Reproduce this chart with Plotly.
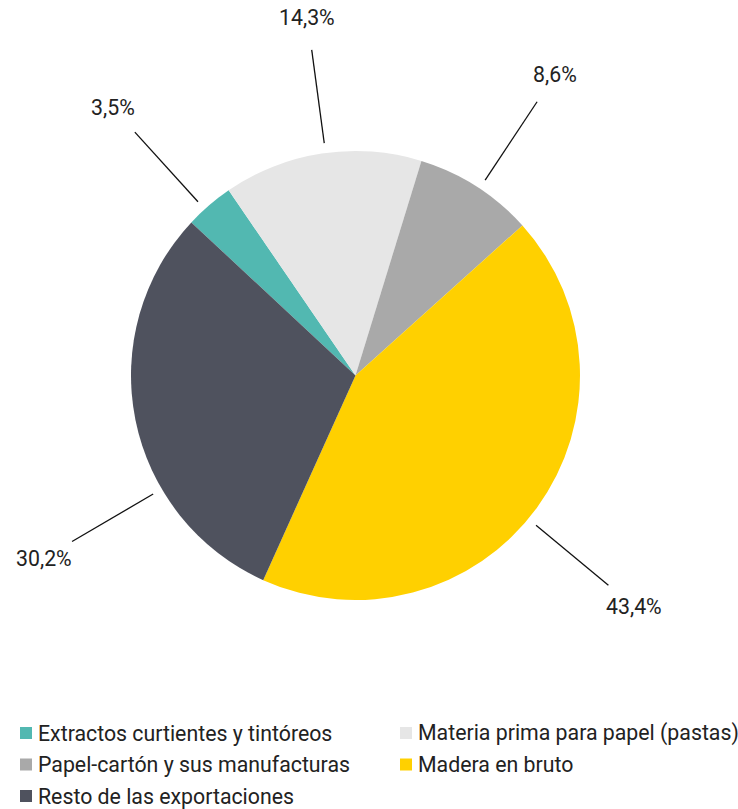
import math
import plotly.graph_objects as go

labels = ["Extractos curtientes y tintóreos", "Materia prima para papel (pastas)",
          "Papel-cartón y sus manufacturas", "Madera en bruto", "Resto de las exportaciones"]
values = [3.5, 14.3, 8.6, 43.4, 30.2]
colors = ["#52B8B1", "#E6E6E6", "#A9A9A9", "#FFD000", "#4F525E"]
text_labels = ["3,5%", "14,3%", "8,6%", "43,4%", "30,2%"]
# small style tweaks of leader-line angles (degrees)
label_angle_shift = [-1.5, 1.0, 1.0, 3.5, -19.0]

W, H = 738, 809
cx, cy, R = 355.5, 375.5, 224.5
rotation = -47.0
FS = 21.3

fig = go.Figure(go.Pie(
    labels=labels, values=values, sort=False, direction="clockwise",
    rotation=rotation, marker=dict(colors=colors, line=dict(width=0)),
    textinfo="none", hoverinfo="label+percent", showlegend=False,
    domain=dict(x=[(cx - R) / W, (cx + R) / W], y=[1 - (cy + R) / H, 1 - (cy - R) / H]),
))

total = sum(values)
shapes, annotations = [], []
cum = 0.0
for v, t, sh in zip(values, text_labels, label_angle_shift):
    mid = rotation + (cum + v / 2) / total * 360 + sh
    cum += v
    a = math.radians(mid)
    dx, dy = math.sin(a), -math.cos(a)
    r0, r1, rl = R + 10, R + 104, R + 137
    x0, y0 = cx + dx * r0, cy + dy * r0
    x1, y1 = cx + dx * r1, cy + dy * r1
    xl, yl = cx + dx * rl, cy + dy * rl
    shapes.append(dict(type="line", xref="paper", yref="paper",
                       x0=x0 / W, y0=1 - y0 / H, x1=x1 / W, y1=1 - y1 / H,
                       line=dict(color="#111111", width=1.3)))
    annotations.append(dict(text=t, xref="paper", yref="paper", x=xl / W, y=1 - yl / H,
                            xanchor="center", yanchor="middle", showarrow=False,
                            font=dict(size=FS, color="#222222", family="Roboto")))

# legend (two columns) built from the label / colour lists
leg_x0, leg_y0, col_w, row_h, sq = 20, 733, 380, 31.5, 12
for i, (lab, col) in enumerate(zip(labels, colors)):
    c, r = i % 2, i // 2
    lx = leg_x0 + c * col_w
    ly = leg_y0 + r * row_h
    shapes.append(dict(type="rect", xref="paper", yref="paper",
                       x0=lx / W, x1=(lx + sq) / W,
                       y0=1 - (ly + sq / 2) / H, y1=1 - (ly - sq / 2) / H,
                       fillcolor=col, line=dict(width=0)))
    annotations.append(dict(text=lab, xref="paper", yref="paper",
                            x=(lx + sq + 4) / W, y=1 - ly / H,
                            xanchor="left", yanchor="middle", showarrow=False,
                            font=dict(size=FS, color="#222222", family="Roboto")))

fig.update_layout(
    width=W, height=H, margin=dict(l=0, r=0, t=0, b=0),
    paper_bgcolor="white", plot_bgcolor="white",
    font=dict(family="Roboto", size=FS, color="#222222"),
    shapes=shapes, annotations=annotations,
    showlegend=False,
)
fig.write_html("out.html", config={"displayModeBar": False},
               post_script="document.body.style.margin='0';document.body.style.overflow='hidden';")
